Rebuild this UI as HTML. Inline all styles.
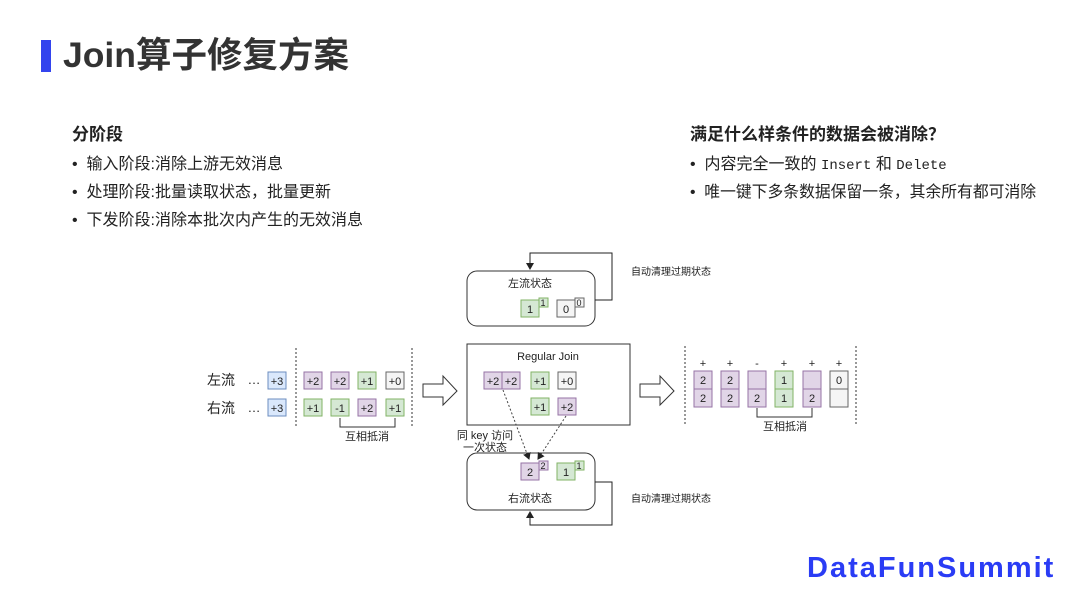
<!DOCTYPE html>
<html><head><meta charset="utf-8"><style>
body{margin:0;width:1080px;height:608px;background:#fff;position:relative;overflow:hidden;font-family:"Liberation Sans","Noto Sans CJK SC",sans-serif;color:#222}
.a{position:absolute;white-space:nowrap}
.t{font-size:16px;line-height:18px}
</style></head><body>
<div class="a" style="left:41px;top:40px;width:10px;height:32px;background:#3344ee"></div>
<div class="a" style="left:63px;top:34px;font-size:35.5px;font-weight:bold;color:#333;line-height:42px">Join算子修复方案</div>
<div class="a t" style="left:72px;top:126px;font-weight:bold;font-size:17px">分阶段</div>
<div class="a t" style="left:72px;top:156px">•&nbsp; 输入阶段:消除上游无效消息</div>
<div class="a t" style="left:72px;top:184px">•&nbsp; 处理阶段:批量读取状态，批量更新</div>
<div class="a t" style="left:72px;top:212px">•&nbsp; 下发阶段:消除本批次内产生的无效消息</div>
<div class="a t" style="left:690px;top:126px;font-weight:bold;font-size:17px">满足什么样条件的数据会被消除？</div>
<div class="a t" style="left:690px;top:156px">•&nbsp; 内容完全一致的 <span style="font-family:'Liberation Mono',monospace;font-size:14px">Insert</span> 和 <span style="font-family:'Liberation Mono',monospace;font-size:14px">Delete</span></div>
<div class="a t" style="left:690px;top:184px;font-size:15.8px">•&nbsp; 唯一键下多条数据保留一条，其余所有都可消除</div>
<div class="a" style="left:807px;top:552px;font-size:29px;font-weight:bold;color:#2a3cf5;letter-spacing:2px">DataFunSummit</div>
<svg class="a" style="left:0;top:0" width="1080" height="608" font-family="Liberation Sans,Noto Sans CJK SC,sans-serif">
<defs><marker id="ar" markerWidth="8" markerHeight="8" refX="6" refY="4" orient="auto"><path d="M0,0L7,4L0,8z" fill="#222"/></marker></defs>
<g font-size="11" text-anchor="middle" fill="#222">
<text x="221" y="385" font-size="14">左流</text><text x="221" y="413" font-size="14">右流</text>
<text x="254" y="384" font-size="13">…</text><text x="254" y="412" font-size="13">…</text>
<g stroke-width="1">
<rect x="268" y="372" width="18" height="17" fill="#dae8fc" stroke="#6c8ebf"/><text x="277" y="385">+3</text>
<rect x="268" y="399" width="18" height="17" fill="#dae8fc" stroke="#6c8ebf"/><text x="277" y="412">+3</text>
<rect x="304" y="372" width="18" height="17" fill="#e1d5e7" stroke="#9673a6"/><text x="313" y="385">+2</text>
<rect x="331" y="372" width="18" height="17" fill="#e1d5e7" stroke="#9673a6"/><text x="340" y="385">+2</text>
<rect x="358" y="372" width="18" height="17" fill="#d5e8d4" stroke="#82b366"/><text x="367" y="385">+1</text>
<rect x="386" y="372" width="18" height="17" fill="#f5f5f5" stroke="#666"/><text x="395" y="385">+0</text>
<rect x="304" y="399" width="18" height="17" fill="#d5e8d4" stroke="#82b366"/><text x="313" y="412">+1</text>
<rect x="331" y="399" width="18" height="17" fill="#d5e8d4" stroke="#82b366"/><text x="340" y="412">-1</text>
<rect x="358" y="399" width="18" height="17" fill="#e1d5e7" stroke="#9673a6"/><text x="367" y="412">+2</text>
<rect x="386" y="399" width="18" height="17" fill="#d5e8d4" stroke="#82b366"/><text x="395" y="412">+1</text>
</g>
<line x1="296" y1="348" x2="296" y2="426" stroke="#333" stroke-dasharray="2,2"/>
<line x1="412" y1="348" x2="412" y2="426" stroke="#333" stroke-dasharray="2,2"/>
<path d="M340,418V427H395V418" fill="none" stroke="#333"/>
<text x="367" y="440">互相抵消</text>
<path d="M423,384H443V376L457,391L443,405V397H423Z" fill="#fff" stroke="#333"/>
<rect x="467" y="344" width="163" height="81" fill="#fff" stroke="#333"/>
<text x="548" y="360">Regular Join</text>
<rect x="484" y="372" width="18" height="17" fill="#e1d5e7" stroke="#9673a6"/><text x="493" y="385">+2</text>
<rect x="502" y="372" width="18" height="17" fill="#e1d5e7" stroke="#9673a6"/><text x="511" y="385">+2</text>
<rect x="531" y="372" width="18" height="17" fill="#d5e8d4" stroke="#82b366"/><text x="540" y="385">+1</text>
<rect x="558" y="372" width="18" height="17" fill="#f5f5f5" stroke="#666"/><text x="567" y="385">+0</text>
<rect x="531" y="398" width="18" height="17" fill="#d5e8d4" stroke="#82b366"/><text x="540" y="411">+1</text>
<rect x="558" y="398" width="18" height="17" fill="#e1d5e7" stroke="#9673a6"/><text x="567" y="411">+2</text>
<rect x="467" y="271" width="128" height="55" rx="10" fill="#fff" stroke="#333"/>
<text x="530" y="287">左流状态</text>
<rect x="521" y="300" width="18" height="17" fill="#d5e8d4" stroke="#82b366"/><text x="530" y="313">1</text>
<rect x="539" y="298" width="9" height="9" fill="#d5e8d4" stroke="#82b366"/><text x="543" y="306" font-size="9">1</text>
<rect x="557" y="300" width="18" height="17" fill="#f5f5f5" stroke="#666"/><text x="566" y="313">0</text>
<rect x="575" y="298" width="9" height="9" fill="#f5f5f5" stroke="#666"/><text x="579" y="306" font-size="9">0</text>
<path d="M595,300H612V253H530V269" fill="none" stroke="#222" marker-end="url(#ar)"/>
<text x="671" y="275" font-size="10">自动清理过期状态</text>
<rect x="467" y="453" width="128" height="57" rx="10" fill="#fff" stroke="#333"/>
<text x="530" y="502">右流状态</text>
<rect x="521" y="463" width="18" height="17" fill="#e1d5e7" stroke="#9673a6"/><text x="530" y="476">2</text>
<rect x="539" y="461" width="9" height="9" fill="#e1d5e7" stroke="#9673a6"/><text x="543" y="469" font-size="9">2</text>
<rect x="557" y="463" width="18" height="17" fill="#d5e8d4" stroke="#82b366"/><text x="566" y="476">1</text>
<rect x="575" y="461" width="9" height="9" fill="#d5e8d4" stroke="#82b366"/><text x="579" y="469" font-size="9">1</text>
<path d="M595,482H612V525H530V512" fill="none" stroke="#222" marker-end="url(#ar)"/>
<text x="671" y="502" font-size="10">自动清理过期状态</text>
<line x1="503" y1="390" x2="529" y2="459" stroke="#444" stroke-dasharray="2,2" marker-end="url(#ar)"/>
<line x1="566" y1="416" x2="538" y2="459" stroke="#444" stroke-dasharray="2,2" marker-end="url(#ar)"/>
<text x="485" y="439">同 key 访问</text><text x="485" y="451">一次状态</text>
<path d="M640,384H660V376L674,391L660,405V397H640Z" fill="#fff" stroke="#333"/>
<line x1="685" y1="346" x2="685" y2="426" stroke="#333" stroke-dasharray="2,2"/>
<line x1="856" y1="346" x2="856" y2="426" stroke="#333" stroke-dasharray="2,2"/>
<g>
<text x="703" y="367">+</text><text x="730" y="367">+</text><text x="757" y="367">-</text><text x="784" y="367">+</text><text x="812" y="367">+</text><text x="839" y="367">+</text>
<rect x="694" y="371" width="18" height="18" fill="#e1d5e7" stroke="#9673a6"/><text x="703" y="384">2</text>
<rect x="694" y="389" width="18" height="18" fill="#e1d5e7" stroke="#9673a6"/><text x="703" y="402">2</text>
<rect x="721" y="371" width="18" height="18" fill="#e1d5e7" stroke="#9673a6"/><text x="730" y="384">2</text>
<rect x="721" y="389" width="18" height="18" fill="#e1d5e7" stroke="#9673a6"/><text x="730" y="402">2</text>
<rect x="748" y="371" width="18" height="18" fill="#e1d5e7" stroke="#9673a6"/>
<rect x="748" y="389" width="18" height="18" fill="#e1d5e7" stroke="#9673a6"/><text x="757" y="402">2</text>
<rect x="775" y="371" width="18" height="18" fill="#d5e8d4" stroke="#82b366"/><text x="784" y="384">1</text>
<rect x="775" y="389" width="18" height="18" fill="#d5e8d4" stroke="#82b366"/><text x="784" y="402">1</text>
<rect x="803" y="371" width="18" height="18" fill="#e1d5e7" stroke="#9673a6"/>
<rect x="803" y="389" width="18" height="18" fill="#e1d5e7" stroke="#9673a6"/><text x="812" y="402">2</text>
<rect x="830" y="371" width="18" height="18" fill="#f5f5f5" stroke="#666"/><text x="839" y="384">0</text>
<rect x="830" y="389" width="18" height="18" fill="#f5f5f5" stroke="#666"/>
</g>
<path d="M757,408V417H812V408" fill="none" stroke="#333"/>
<text x="785" y="430">互相抵消</text>
</g>
</svg>
</body></html>
